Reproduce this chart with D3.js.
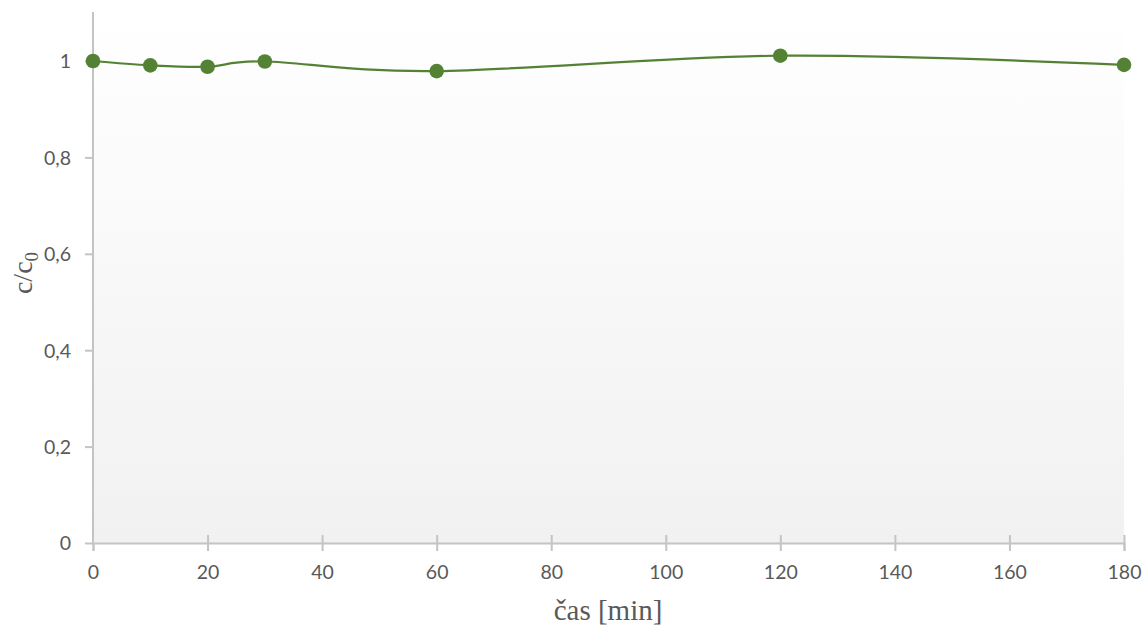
<!DOCTYPE html>
<html>
<head>
<meta charset="utf-8">
<script src="https://cdn.jsdelivr.net/npm/d3@7"></script>
<style>
html,body{margin:0;padding:0;background:#fff;}
svg{display:block;}
</style>
</head>
<body>
<svg id="chart" width="1145" height="628"></svg>
<script>
const times = [0, 10, 20, 30, 60, 120, 180];
const ratios = [1.000, 0.991, 0.988, 0.999, 0.979, 1.011, 0.992];
const xTicks = [0, 20, 40, 60, 80, 100, 120, 140, 160, 180];
const yTicks = [0, 0.2, 0.4, 0.6, 0.8, 1];

const svg = d3.select("#chart");
const pLeft = 93, pRight = 1124, pTop = 12, pBottom = 543;
const x = d3.scaleLinear().domain([0, 180]).range([pLeft, pRight]);
const y = d3.scaleLinear().domain([0, 1]).range([pBottom, 61]);

const defs = svg.append("defs");
const grad = defs.append("linearGradient").attr("id", "bg").attr("x1", 0).attr("y1", 0).attr("x2", 0).attr("y2", 1);
grad.append("stop").attr("offset", "0%").attr("stop-color", "#ffffff");
grad.append("stop").attr("offset", "100%").attr("stop-color", "#f1f1f1");

svg.append("rect").attr("x", pLeft).attr("y", pTop).attr("width", pRight - pLeft).attr("height", pBottom - pTop).attr("fill", "url(#bg)");

const fmt = d => d === 0 ? "0" : (d === 1 ? "1" : String(d).replace(".", ","));

// y axis
const yAxis = svg.append("g").attr("transform", `translate(${pLeft},0)`)
  .call(d3.axisLeft(y).tickValues(yTicks).tickFormat(fmt).tickSize(8).tickPadding(14));
yAxis.select(".domain").attr("d", `M0,${pTop}V${pBottom}`);

// x axis
const xAxis = svg.append("g").attr("transform", `translate(0,${pBottom})`)
  .call(d3.axisBottom(x).tickValues(xTicks).tickFormat(d3.format("d")).tickSize(8).tickPadding(14));
xAxis.selectAll(".tick line").attr("y1", -8);
xAxis.select(".tick line").attr("y1", 0);

svg.selectAll(".domain, .tick line").attr("stroke", "#c4c4c4").attr("stroke-width", 2);
svg.selectAll(".tick text").attr("fill", "#595959").style("font-family", "Lato, 'Open Sans', sans-serif").style("font-size", "19.5px");
yAxis.selectAll(".tick text").attr("dy", "0.35em");

// line
const line = d3.line().x((d, i) => x(times[i])).y(d => y(d)).curve(d3.curveCatmullRom.alpha(0));
svg.append("path").datum(ratios).attr("d", line).attr("fill", "none").attr("stroke", "#548235").attr("stroke-width", 2.2);

svg.selectAll("circle.pt").data(ratios).join("circle").attr("class", "pt")
  .attr("cx", (d, i) => x(times[i])).attr("cy", d => y(d)).attr("r", 7.3).attr("fill", "#548235");

// titles
svg.append("text").attr("x", 608).attr("y", 620).attr("text-anchor", "middle")
  .attr("fill", "#595959").style("font-family", "'Liberation Serif', serif").style("font-size", "29px").text("čas [min]");

const yt = svg.append("text").attr("transform", `translate(32,273) rotate(-90)`).attr("text-anchor", "middle")
  .attr("fill", "#595959").style("font-family", "'Liberation Serif', serif").style("font-size", "28px");
yt.append("tspan").text("c/c");
yt.append("tspan").attr("dy", 6).style("font-size", "19px").text("0");
</script>
</body>
</html>
